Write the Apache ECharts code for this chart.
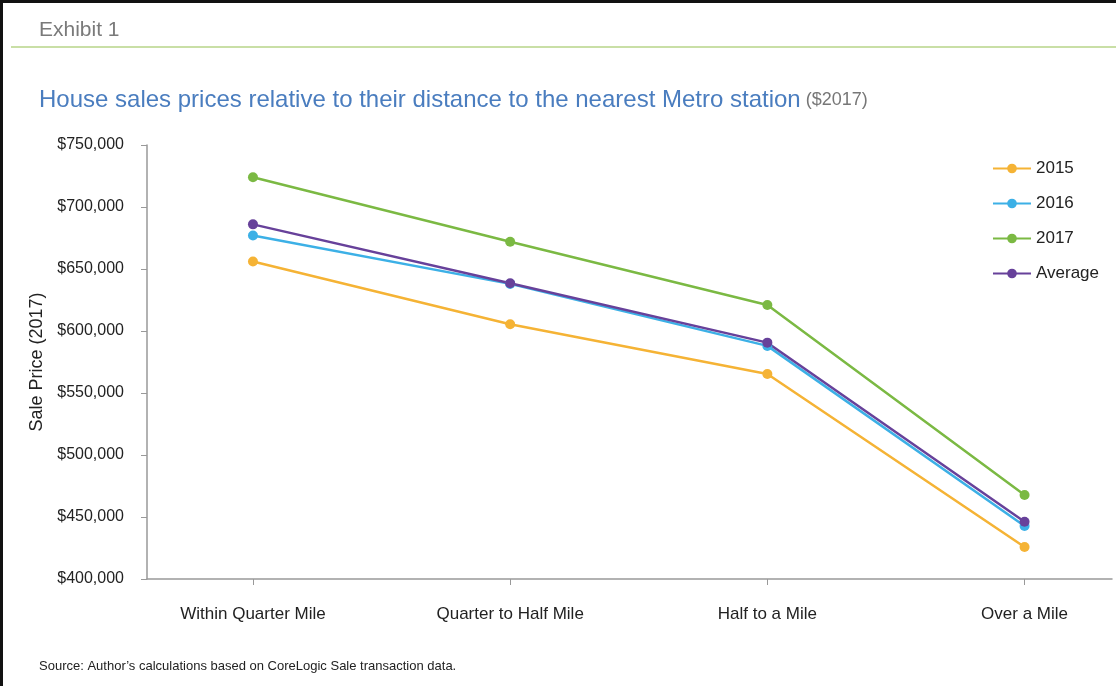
<!DOCTYPE html>
<html>
<head>
<meta charset="utf-8">
<script src="https://cdn.jsdelivr.net/npm/echarts@6/dist/echarts.min.js"></script>
<style>
  html, body { margin: 0; padding: 0; background: #fff; }
  #chart {
    width: 1116px;
    height: 686px;
    box-sizing: border-box;
    border-left: 3px solid #111;
    border-top: 3px solid #111;
  }
</style>
</head>
<body>
<div id="chart"></div>
<script>
// 到最近地铁站的距离分类
const categories = ['Within Quarter Mile', 'Quarter to Half Mile', 'Half to a Mile', 'Over a Mile'];
const seriesNames = ['2015', '2016', '2017', 'Average'];
const prices2015 = [656000, 605500, 565300, 425800];
const prices2016 = [677000, 638000, 588000, 442700];
const prices2017 = [724000, 672000, 621000, 467700];
const pricesAverage = [686000, 638500, 590600, 446200];
const yTicks = [400000, 450000, 500000, 550000, 600000, 650000, 700000, 750000];

const colors = ['#f5b335', '#3cb0e6', '#7bb943', '#67419a'];
const seriesData = [prices2015, prices2016, prices2017, pricesAverage];
const FONT = '"Liberation Sans", Arial, sans-serif';

const chart = echarts.init(document.getElementById('chart'));

// 横轴用数值轴，刻度放在0..3，左右留白与原图一致
const catIndex = categories.map((c, i) => i);

const option = {
  animation: false,
  textStyle: { fontFamily: FONT },
  title: [
    {
      text: 'Exhibit 1',
      left: 31,
      top: 12,
      textStyle: { color: '#7a7a7a', fontSize: 21, fontWeight: 'normal', fontFamily: FONT },
    },
    {
      text: '{main|House sales prices relative to their distance to the nearest Metro station} {unit|($2017)}',
      left: 31,
      top: 80,
      textStyle: {
        fontWeight: 'normal',
        rich: {
          main: { color: '#4a7dbf', fontSize: 24, fontWeight: 'normal', fontFamily: FONT },
          unit: { color: '#777', fontSize: 18, fontWeight: 'normal', fontFamily: FONT },
        },
      },
    },
    {
      text: 'Source: Author\u2019s calculations based on CoreLogic Sale transaction data.',
      left: 31,
      top: 652,
      textStyle: { color: '#222', fontSize: 13, fontWeight: 'normal', fontFamily: FONT },
    },
  ],
  graphic: [
    {
      type: 'rect',
      left: 8,
      top: 43,
      shape: { width: 1106, height: 2 },
      style: { fill: '#c9dfa6' },
    },
  ],
  legend: {
    orient: 'vertical',
    right: 12,
    top: 152,
    itemWidth: 38,
    itemHeight: 12,
    itemGap: 18,
    data: seriesNames,
    textStyle: { color: '#222', fontSize: 17, fontFamily: FONT },
  },
  grid: {
    left: 144,
    right: 4,
    top: 142,
    bottom: 107,
    containLabel: false,
  },
  xAxis: {
    type: 'value',
    min: -0.412,
    max: 3.34,
    splitLine: { show: false },
    axisLine: { show: true, onZero: false, lineStyle: { color: '#999', width: 1.5 } },
    axisTick: {
      show: true,
      customValues: catIndex,
      length: 6,
      inside: false,
      lineStyle: { color: '#999' },
    },
    axisLabel: {
      customValues: catIndex,
      margin: 27,
      color: '#222',
      fontSize: 17,
      fontFamily: FONT,
      formatter: (v) => categories[Math.round(v)],
    },
  },
  yAxis: {
    type: 'value',
    min: yTicks[0],
    max: yTicks[yTicks.length - 1],
    interval: 50000,
    name: 'Sale Price (2017)',
    nameLocation: 'middle',
    nameRotate: 90,
    nameGap: 98,
    nameTextStyle: { color: '#222', fontSize: 18, fontFamily: FONT },
    splitLine: { show: false },
    axisLine: { show: true, onZero: false, lineStyle: { color: '#999', width: 1.5 } },
    axisTick: { show: true, length: 6, lineStyle: { color: '#999' } },
    axisLabel: {
      margin: 23,
      color: '#222',
      fontSize: 16,
      fontFamily: FONT,
      formatter: (v) => '$' + v.toLocaleString('en-US'),
    },
  },
  series: seriesNames.map((name, si) => ({
    name,
    type: 'line',
    data: seriesData[si].map((v, i) => [catIndex[i], v]),
    symbol: 'circle',
    symbolSize: 10,
    color: colors[si],
    lineStyle: { width: 2.5, color: colors[si] },
    itemStyle: { color: colors[si] },
  })),
};

chart.setOption(option);
</script>
</body>
</html>
